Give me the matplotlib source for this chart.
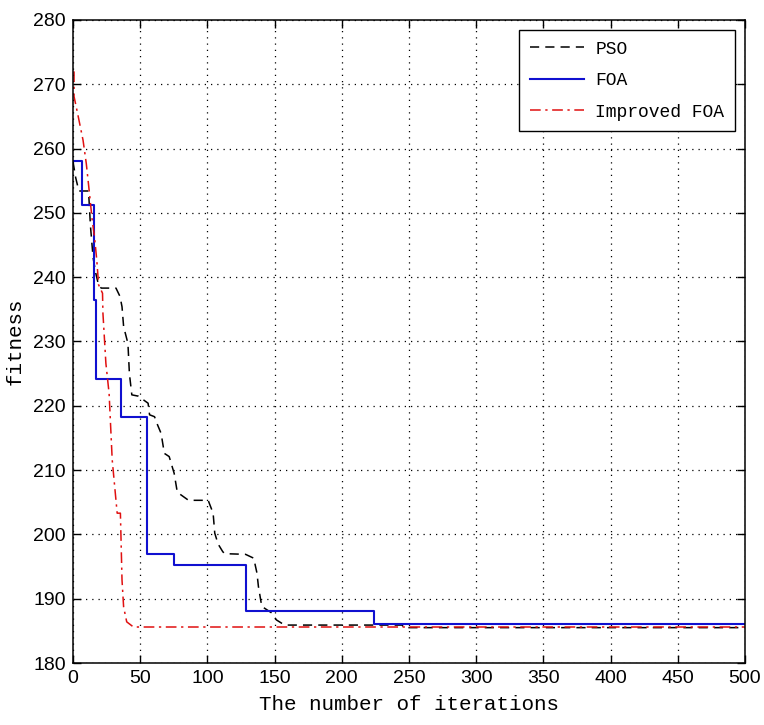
import matplotlib
matplotlib.use('Agg')
import matplotlib.pyplot as plt

# values
pso_x = [0, 2, 4.4, 11.6, 13, 15, 17, 19, 21, 32, 35, 36.5, 37.7, 40.9, 42, 43.8,
         48.6, 55.9, 57, 60.7, 63, 65.6, 68, 71.6, 75.3, 77.6, 80, 86, 100.6,
         104.3, 105.5, 108, 111.5, 113, 128.4, 134.5, 136.9, 138, 140.5, 147.8,
         151.4, 157.5, 245, 246, 500]
pso_y = [258, 255.5, 253.4, 253.4, 248, 243, 240.6, 238.8, 238.3, 238.3, 237,
         235.4, 232.3, 229.7, 225, 221.7, 221.5, 220.4, 218.6, 218.3, 217, 215.7,
         212.6, 212.1, 209.5, 206.6, 206.2, 205.3, 205.3, 203.3, 200.2, 198.5,
         197.3, 197, 196.9, 196.3, 194, 191.9, 188.8, 187.8, 186.7, 185.9, 185.9,
         185.5, 185.5]

foa_x = [0, 7, 15.5, 17.5, 36, 55, 75, 129, 224, 500]
foa_y = [258, 251.2, 236.5, 224.2, 218.3, 197.0, 195.3, 188.1, 186.1, 186.1]

ifoa_x = [0.8, 0.8, 3.9, 7.5, 9.9, 12.3, 14.3, 16, 17.7, 19.1, 22, 22.3, 24.5,
          26.9, 29.2, 32.9, 35.3, 36.5, 37.7, 40, 45, 500]
ifoa_y = [272, 268.1, 265, 261.3, 257.7, 253, 248.9, 246.3, 242.7, 238.8, 237.5,
          234.4, 226.6, 221.9, 211.6, 203.3, 203.3, 192.9, 188.7, 186.4, 185.6,
          185.6]

x_ticks = list(range(0, 501, 50))
y_ticks = list(range(180, 281, 10))

tick_font = ['Liberation Sans', 'DejaVu Sans']
text_font = ['Liberation Mono', 'DejaVu Sans Mono']

fig = plt.figure(figsize=(7.64, 7.25), dpi=100)
ax = fig.add_axes([0.0955, 0.0855, 0.8795, 0.887])

ax.plot(pso_x, pso_y, color='black', lw=1.1, linestyle=(0, (6, 4)), label='PSO')
ax.plot(foa_x, foa_y, color='#1010d0', lw=1.5, drawstyle='steps-post', label='FOA')
ax.plot(ifoa_x, ifoa_y, color='#e01010', lw=1.1, linestyle=(0, (7, 3, 1.5, 3)),
        label='Improved FOA')

ax.set_xlim(0, 500)
ax.set_ylim(180, 280)
ax.set_xticks(x_ticks)
ax.set_yticks(y_ticks)
ax.grid(True, color='black', linestyle=(0, (1, 4)), lw=0.9)
ax.tick_params(direction='in', top=True, right=True, length=6, width=1, pad=5)
for lab in ax.get_xticklabels() + ax.get_yticklabels():
    lab.set_family(tick_font)
    lab.set_fontsize(14)
for s in ax.spines.values():
    s.set_linewidth(1.1)

ax.set_xlabel('The number of iterations', family=text_font, fontsize=15, labelpad=6)
ax.set_ylabel('fitness', family=text_font, fontsize=15, labelpad=6)

leg = ax.legend(loc='upper right', prop={'family': text_font, 'size': 13},
                fancybox=False, edgecolor='black', framealpha=1,
                handlelength=3.0, borderaxespad=0.55, labelspacing=0.8,
                borderpad=0.6, handletextpad=0.6)
leg.get_frame().set_linewidth(1.0)

fig.savefig('out.png', dpi=100)
